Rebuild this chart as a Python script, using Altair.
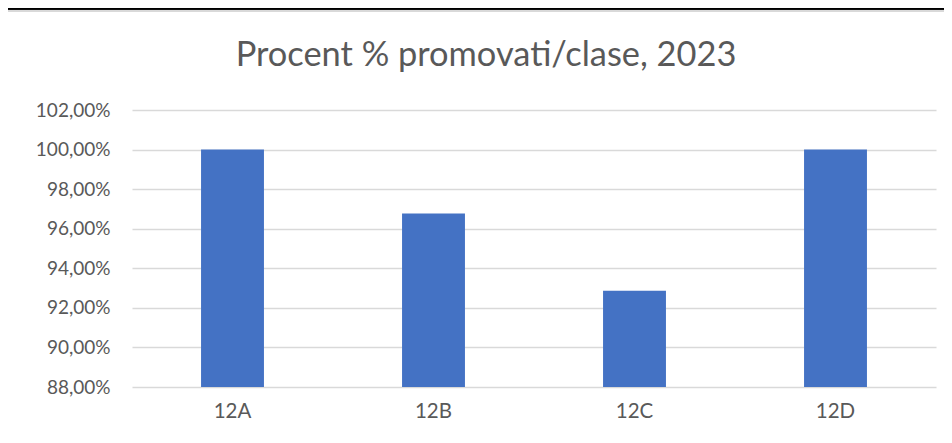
import altair as alt
import pandas as pd

classes = ["12A", "12B", "12C", "12D"]
percent = [100.00, 96.77, 92.86, 100.00]
y_ticks = [88, 90, 92, 94, 96, 98, 100, 102]
title_text = "Procent % promovati/clase, 2023"

df = pd.DataFrame({"clasa": classes, "procent": percent})
title_df = pd.DataFrame({"t": [title_text]})

FONT = "Lato"
GREY = "#595959"

bars = alt.Chart(df).mark_bar(color="#4472C4", clip=True).encode(
    x=alt.X("clasa:N", sort=classes,
            scale=alt.Scale(paddingInner=0.687, paddingOuter=0.3435),
            axis=alt.Axis(title=None, labelAngle=0, labelFont=FONT, labelFontSize=20.5,
                          labelColor=GREY, labelPadding=14, ticks=False, domain=False,
                          grid=False)),
    y=alt.Y("procent:Q",
            scale=alt.Scale(domain=[88, 102], zero=False, nice=False),
            axis=alt.Axis(title=None, values=y_ticks, labelFont=FONT, labelFontSize=19,
                          labelColor=GREY, labelPadding=22, ticks=False, domain=False,
                          grid=True, gridColor="#d9d9d9", gridWidth=1.3,
                          labelExpr="replace(format(datum.value, '.2f'), '.', ',') + '%'")),
)

title_mark = alt.Chart(title_df).mark_text(
    font=FONT, fontSize=34.4, color=GREY, align="center", baseline="alphabetic"
).encode(text="t:N", x=alt.value(354), y=alt.value(-44))

# decorative frame lines (spreadsheet cell edge and chart border)
frame_top = alt.Chart(df).mark_rule(color="#d9d9d9", strokeWidth=1.5).encode(
    x=alt.value(-124), x2=alt.value(820), y=alt.value(-99))
sheet_line = alt.Chart(df).mark_rule(color="#000000", strokeWidth=3).encode(
    x=alt.value(-124), x2=alt.value(820), y=alt.value(-102))

chart = alt.layer(sheet_line, frame_top, title_mark, bars).properties(
    width=804, height=277,
    padding={"left": 124, "top": 102, "right": 8, "bottom": 48},
    autosize=alt.AutoSizeParams(type="none"),
    background="white",
).configure_view(stroke=None)

chart.save("out.html", embed_options={"renderer": "svg", "actions": False})
